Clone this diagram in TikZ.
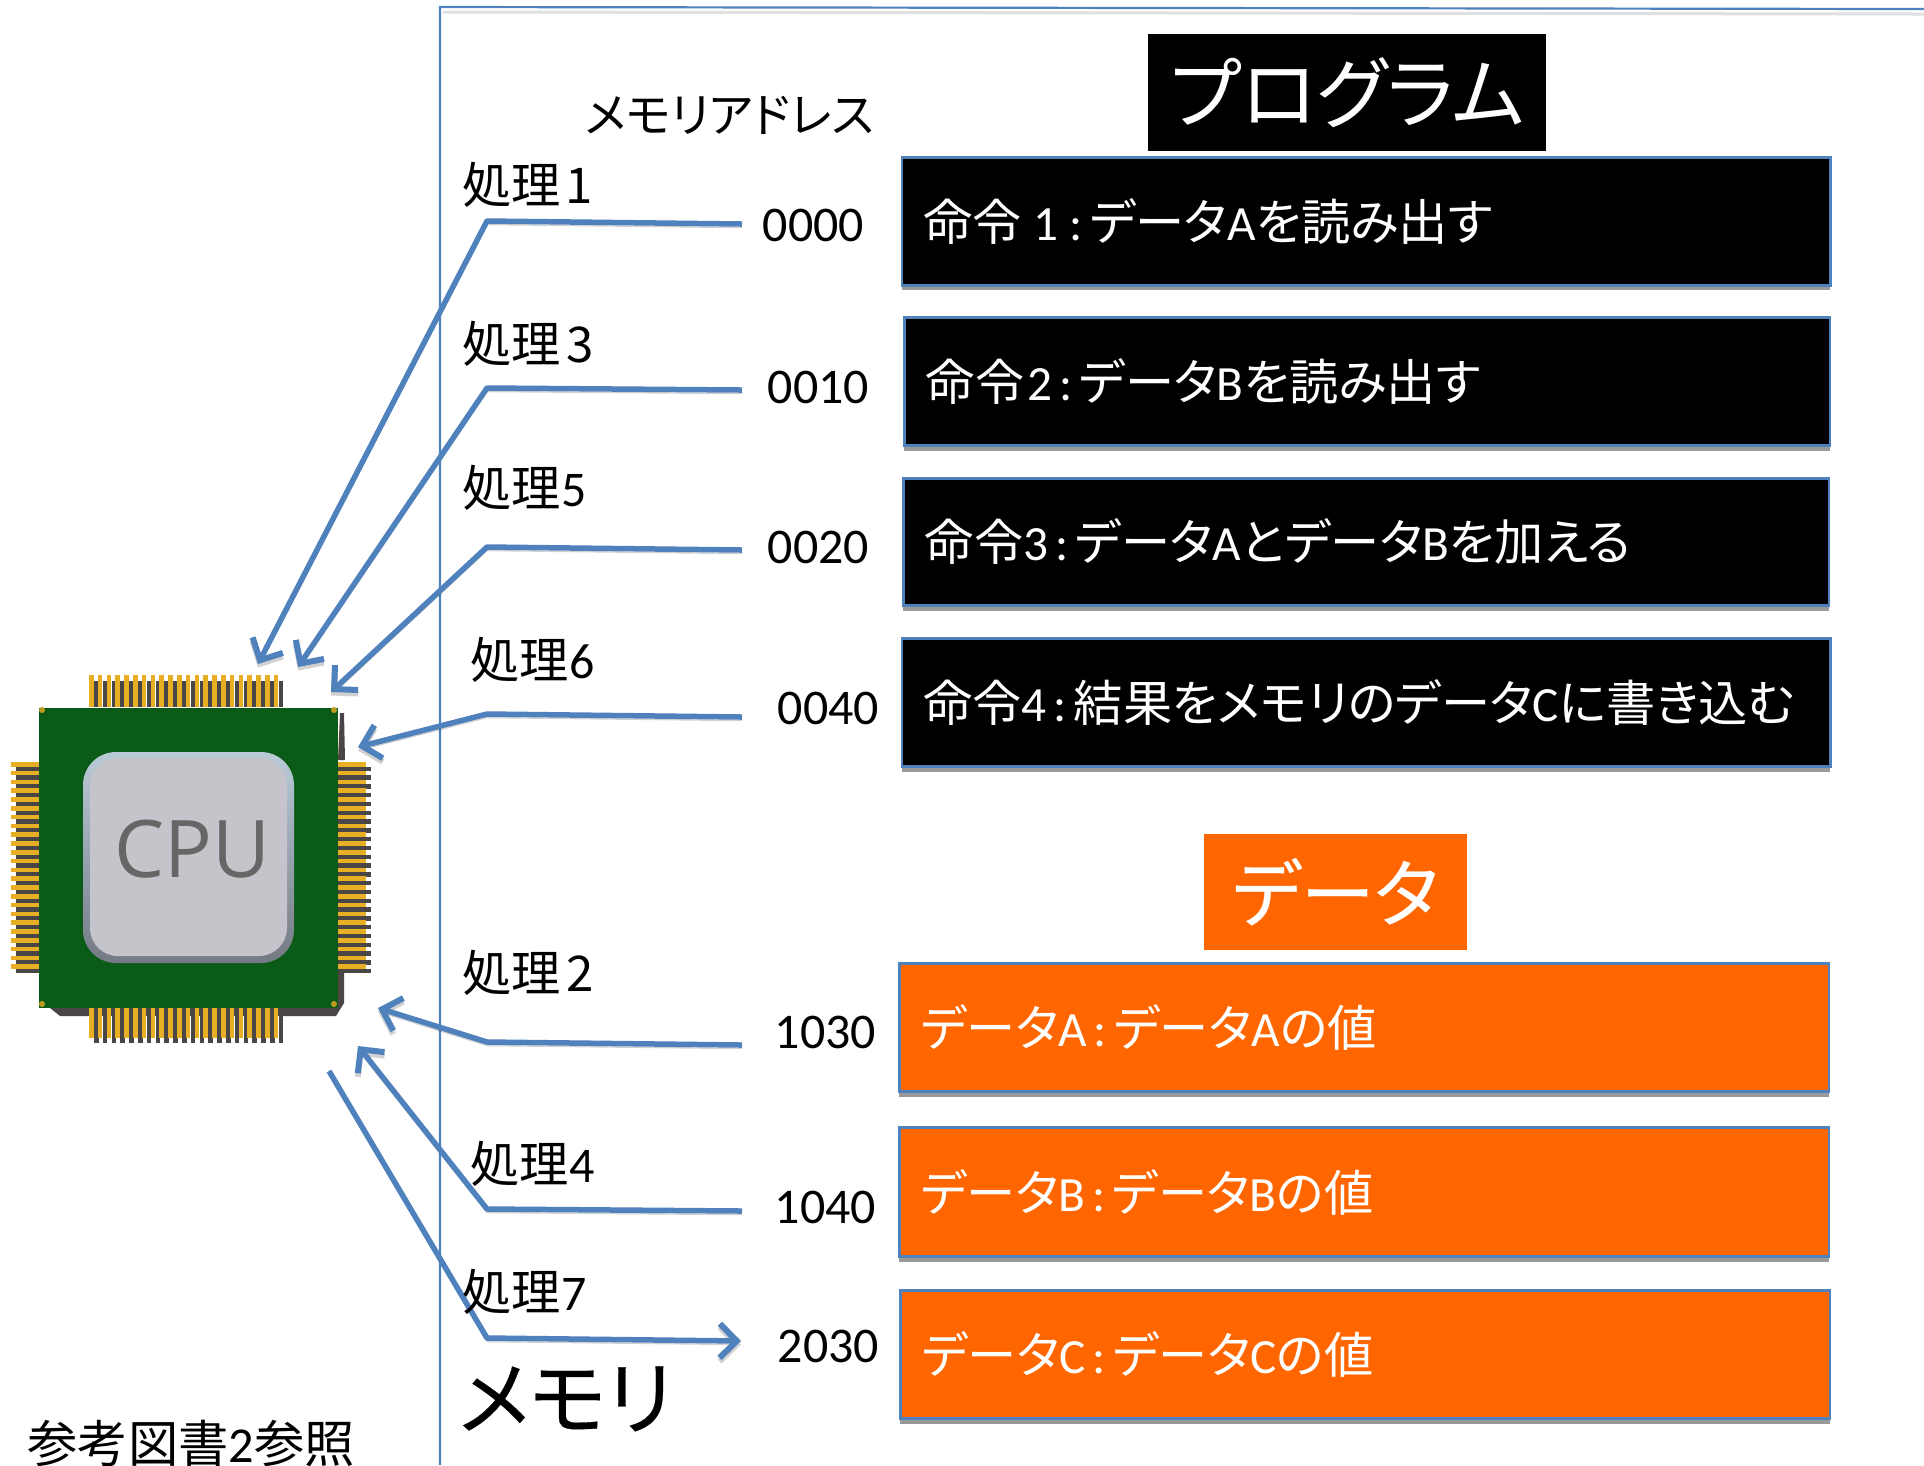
\documentclass[tikz,border=0pt]{standalone}
\usepackage{fontspec}
\setmainfont{Carlito}
\newfontfamily\jpf[RawFeature=+palt]{Noto Sans CJK JP}
\newfontfamily\jpb[RawFeature=+palt,FakeBold=0.35]{Noto Sans CJK JP}
\usetikzlibrary{arrows.meta,shadows}
\newcommand{\J}[1]{{\jpf #1}}
\newcommand{\JB}[1]{{\jpb #1}}
\newcommand{\fs}[1]{\fontsize{#1}{#1}\selectfont}
\newcommand{\cln}{\hspace{0.14em}:\hspace{0.14em}}
\definecolor{lineblue}{HTML}{4F81BD}
\definecolor{dataorange}{HTML}{FF6600}
\definecolor{pingold}{HTML}{E8AE24}
\definecolor{pindark}{HTML}{4A4646}
\definecolor{chipgreen}{HTML}{0A5A18}
\definecolor{capface}{HTML}{C4C4CA}
\tikzset{
  conn/.style={draw=lineblue,line width=0.055cm,line join=round,
    preaction={draw=black,opacity=.18,transform canvas={yshift=-0.035cm}}},
  tipped/.style={-{Straight Barb[length=0.17cm,width=0.34cm,line width=0.06cm]}},
  cellbox/.style={draw=lineblue,line width=0.028cm,anchor=north west,inner xsep=0.215cm,inner ysep=0,
    align=left,font=\fs{14},text=white,
    drop shadow={opacity=.4,fill=black,shadow xshift=0cm,shadow yshift=-0.05cm}},
  progcell/.style={cellbox,fill=black},
  datacell/.style={cellbox,fill=dataorange},
  headbox/.style={anchor=north west,inner sep=0,text=white},
  proc/.style={anchor=base west,inner sep=0,font=\fs{14}},
  addr/.style={anchor=base west,inner sep=0,font=\fs{14.2}},
}
\begin{document}
\begin{tikzpicture}[x=0.01cm,y=-0.01cm]
\useasboundingbox (0,0) rectangle (1924,1465);
\fill[white] (0,0) rectangle (1924,1465);

% memory frame
\draw[black!12,line width=0.03cm] (443,12) -- (1924,14);
\draw[lineblue,line width=0.022cm] (440,1465) -- (440,7) -- (1924,9);

% chip: under-shadow, then pins with their dark offsets
\fill[pindark] (340,713) -- (344,713) -- (345,760) -- (338,760) -- cycle;
\fill[pindark] (50,1008) -- (338,1008) -- (338,968) -- (344,968) -- (344,1003) -- (336,1016) -- (60,1016) -- cycle;
\foreach \i in {0,...,21}{
  \pgfmathsetmacro{\px}{89+\i*8.8}
  \fill[pindark] (\px+5,681) rectangle (\px+9.5,707);
  \fill[pingold] (\px,675) rectangle (\px+4.5,707);
  \fill[pindark] (\px+5,1008) rectangle (\px+9.5,1043);
  \fill[pingold] (\px,1008) rectangle (\px+4.5,1038);
}
\foreach \i in {0,...,23}{
  \pgfmathsetmacro{\py}{762+\i*8.8}
  \fill[pindark] (16,\py+4.5) rectangle (39,\py+9);
  \fill[pingold] (11,\py) rectangle (39,\py+4.5);
  \fill[pindark] (338,\py+4.5) rectangle (371,\py+9);
  \fill[pingold] (338,\py) rectangle (366,\py+4.5);
}
% chip body
\fill[chipgreen] (39,708) rectangle (338,1008);
\foreach \cx/\cy in {42/710,334/710,42/1004,334/1004}{
  \fill[pingold!80!chipgreen] (\cx,\cy) circle (3);
}
% chip cap: bevelled edge and flat face
\shade[rounded corners=0.33cm,top color={rgb,255:red,186;green,204;blue,216},
  bottom color={rgb,255:red,116;green,122;blue,132}] (83,752) rectangle (294,963);
\fill[rounded corners=0.28cm,capface] (90,758) rectangle (287,956);
\node[inner sep=0,text={rgb,255:red,102;green,102;blue,102}] (cpulabel) at (192,849)
  {\fontspec{Open Sans}\fs{22.6}CPU};

% program and data cells
\node[headbox,font=\fs{22},fill=black,minimum width=3.98cm,minimum height=1.17cm] (proghead) at (1147.5,33.5)
  {\J{プログラム}};
\node[headbox,font=\fs{21},fill=dataorange,minimum width=2.63cm,minimum height=1.16cm] (datahead) at (1203,833)
  {\JB{データ}};
\node[progcell,text width=8.85cm,minimum height=1.28cm] (inst1) at (900.5,156)
  {\mbox{\J{命令}\hspace{0.24em}1\hspace{0.08em}\cln\J{データ}A\J{を読み出す}}};
\node[progcell,text width=8.82cm,minimum height=1.28cm] (inst2) at (903,316)
  {\mbox{\J{命令}\hspace{0.06em}2\cln\J{データ}B\J{を読み出す}}};
\node[progcell,text width=8.82cm,minimum height=1.27cm] (inst3) at (902,477)
  {\mbox{\J{命令}3\cln\J{データ}A\J{とデータ}B\J{を加える}}};
\node[progcell,text width=8.85cm,minimum height=1.28cm] (inst4) at (900.5,637)
  {\mbox{\J{命令}4\cln\J{結果をメモリのデータ}C\J{に書き込む}}};
\node[datacell,text width=8.86cm,minimum height=1.28cm] (datA) at (898,962)
  {\mbox{\J{データ}A\cln\J{データ}A\J{の値}}};
\node[datacell,text width=8.86cm,minimum height=1.29cm] (datB) at (898,1126)
  {\mbox{\J{データ}B\cln\J{データ}B\J{の値}}};
\node[datacell,text width=8.86cm,minimum height=1.28cm] (datC) at (899,1289)
  {\mbox{\J{データ}C\cln\J{データ}C\J{の値}}};

% connector way-points
\coordinate (a1) at (742,224); \coordinate (b1) at (487,221); \coordinate (c1) at (258,664);
\coordinate (a3) at (742,390); \coordinate (b3) at (487,388); \coordinate (c3) at (298,667);
\coordinate (a5) at (742,550); \coordinate (b5) at (487,547); \coordinate (c5) at (331,692);
\coordinate (a6) at (742,717); \coordinate (b6) at (487,714); \coordinate (c6) at (358,747);
\coordinate (a2) at (742,1045); \coordinate (b2) at (487,1042); \coordinate (c2) at (378,1008);
\coordinate (a4) at (742,1211); \coordinate (b4) at (487,1209); \coordinate (c4) at (358,1046);
\coordinate (a7) at (329,1071); \coordinate (b7) at (487,1338); \coordinate (c7) at (741,1341);

\draw[conn,tipped] (a1) -- (b1) -- (c1);
\draw[conn,tipped] (a3) -- (b3) -- (c3);
\draw[conn,tipped] (a5) -- (b5) -- (c5);
\draw[conn,tipped] (a6) -- (b6) -- (c6);
\draw[conn,tipped] (a2) -- (b2) -- (c2);
\draw[conn,tipped] (a4) -- (b4) -- (c4);
\draw[conn,tipped] (a7) -- (b7) -- (c7);

% process labels
\node[proc] (p1) at (462,203) {\J{処理}\hspace{0.08em}\J{1}};
\node[proc] (p3) at (462,362) {\J{処理}\hspace{0.1em}\J{3}};
\node[proc] (p5) at (462,506) {\J{処理}\fs{14.2}5};
\node[proc] (p6) at (470,678) {\J{処理}\fs{14.2}6};
\node[proc] (p2) at (462,991) {\J{処理}\hspace{0.1em}\J{2}};
\node[proc] (p4) at (470,1182) {\J{処理}\fs{14.2}4};
\node[proc] (p7) at (462,1310) {\J{処理}\fs{14.2}7};

% addresses
\node[addr] (m1) at (762,241) {0000};
\node[addr] (m2) at (767,403) {0010};
\node[addr] (m3) at (767,563) {0020};
\node[addr] (m4) at (777,724) {0040};
\node[addr] (m5) at (774,1048) {1030};
\node[addr] (m6) at (774,1223) {1040};
\node[addr] (m7) at (777,1362) {2030};

% captions
\node[anchor=base west,inner sep=0,font=\fs{13.4}] (addrhead) at (584,132) {\J{メモリアドレス}};
\node[anchor=base west,inner sep=0,font=\fs{23}] (memhead) at (458,1428) {\JB{メモリ}};
\node[anchor=base west,inner sep=0,font=\fs{14.3}] (refnote) at (27,1462) {\J{参考図書}2\J{参照}};
\end{tikzpicture}
\end{document}
